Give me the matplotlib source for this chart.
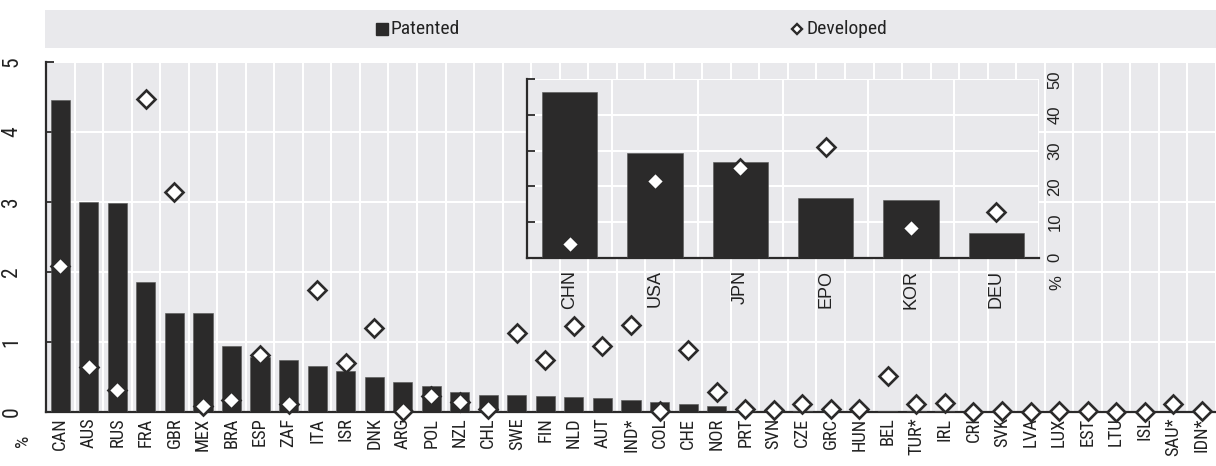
import matplotlib
matplotlib.use("Agg")
import matplotlib.pyplot as plt
import numpy as np

# Main panel: share of patented vs developed (%)
countries = ["CAN", "AUS", "RUS", "FRA", "GBR", "MEX", "BRA", "ESP", "ZAF", "ITA",
             "ISR", "DNK", "ARG", "POL", "NZL", "CHL", "SWE", "FIN", "NLD", "AUT",
             "IND*", "COL", "CHE", "NOR", "PRT", "SVN", "CZE", "GRC", "HUN", "BEL",
             "TUR*", "IRL", "CRI", "SVK", "LVA", "LUX", "EST", "LTU", "ISL", "SAU*", "IDN*"]
patented = [4.46, 3.00, 2.99, 1.86, 1.42, 1.42, 0.95, 0.79, 0.75, 0.66,
            0.58, 0.50, 0.43, 0.37, 0.28, 0.25, 0.24, 0.23, 0.22, 0.20,
            0.17, 0.15, 0.12, 0.08, 0.01, 0.00, 0.01, 0.00, 0.00, 0.02,
            0.01, 0.01, 0.00, 0.00, 0.00, 0.00, 0.00, 0.00, 0.00, 0.00, 0.00]
developed = [2.09, 0.65, 0.31, 4.47, 3.15, 0.08, 0.17, 0.81, 0.12, 1.75,
             0.70, 1.20, 0.01, 0.23, 0.15, 0.04, 1.13, 0.74, 1.23, 0.94,
             1.24, 0.01, 0.89, 0.28, 0.05, 0.03, 0.12, 0.05, 0.05, 0.52,
             0.11, 0.13, 0.00, 0.02, 0.00, 0.02, 0.01, 0.00, 0.00, 0.11, 0.01]
main_yticks = [0, 1, 2, 3, 4, 5]

# Inset panel: largest economies (%)
inset_labels = ["CHN", "USA", "JPN", "EPO", "KOR", "DEU"]
inset_patented = [46.4, 29.4, 26.9, 16.8, 16.2, 7.0]
inset_developed = [3.9, 21.5, 25.0, 31.1, 8.2, 12.9]
inset_yticks = [0, 10, 20, 30, 40, 50]

legend_labels = ["Patented", "Developed"]

BAR = "#2b2a2a"
BG = "#e9e9ec"
NARROW = dict(family=["Liberation Sans Narrow", "Roboto Condensed", "DejaVu Sans Condensed",
                      "Liberation Sans"], stretch="condensed")
REGULAR = dict(family=["Liberation Sans", "DejaVu Sans"])

W, H = 1216, 466
fig = plt.figure(figsize=(W / 100, H / 100), dpi=100)


def box(l, t, r, b):
    return [l / W, 1 - b / H, (r - l) / W, (b - t) / H]


def diamonds(ax, x, y, ms=9.5):
    ax.plot(x, y, linestyle="none", marker="D", ms=ms, mfc="white",
            mec=BAR, mew=1.9, zorder=4, clip_on=False)


# ---------- main axes ----------
ax = fig.add_axes(box(46, 62, 1216, 412))
ax.set_facecolor(BG)
ax.set_axisbelow(True)
x = np.arange(len(countries))
ax.bar(x, patented, width=0.67, color=BAR, edgecolor="#555555", linewidth=0.4, zorder=3)
diamonds(ax, x, developed)
ax.set_xlim(-0.5, len(countries) - 0.5)
ax.set_ylim(0, 5)
ax.set_xticks(x)
ax.set_xticklabels(countries, rotation=90, fontsize=13.3, color="#222222", **NARROW)
ax.set_xticks(np.arange(-0.5, len(countries), 1), minor=True)
ax.set_yticks(main_yticks)
ax.set_yticklabels([str(v) for v in main_yticks], rotation=90, va="center",
                   fontsize=15.5, color="#222222", **NARROW)
ax.tick_params(axis="x", which="both", length=0, pad=4)
ax.tick_params(axis="y", direction="in", length=6, width=1.3, color=BAR, pad=17)
ax.grid(which="minor", axis="x", color="white", lw=1.5)
ax.grid(which="major", axis="y", color="white", lw=1.5)
ax.grid(which="major", axis="x", visible=False)
for s in ["top", "right"]:
    ax.spines[s].set_visible(False)
for s in ["left", "bottom"]:
    ax.spines[s].set_color(BAR)
    ax.spines[s].set_linewidth(1.6)
fig.text(23 / W, 1 - 441 / H, "%", rotation=90, ha="center", va="center",
         fontsize=14, color="#222222", **NARROW)

# ---------- inset axes ----------
ax2 = fig.add_axes(box(527, 79.3, 1039, 257.7))
ax2.set_facecolor(BG)
ax2.set_axisbelow(True)
xi = np.arange(len(inset_labels))
ax2.bar(xi, inset_patented, width=0.645, color=BAR, edgecolor="#555555", linewidth=0.4, zorder=3)
diamonds(ax2, xi, inset_developed)
ax2.set_xlim(-0.5, len(inset_labels) - 0.5)
ax2.set_ylim(0, 50)
ax2.set_xticks(xi)
ax2.set_xticklabels(inset_labels, rotation=90, fontsize=13, color="#222222", **REGULAR)
ax2.set_xticks(np.arange(-0.5, len(inset_labels), 1), minor=True)
ax2.set_yticks(inset_yticks)
ax2.set_yticklabels([str(v) for v in inset_yticks], rotation=90, va="center",
                    fontsize=12, color="#222222", **REGULAR)
ax2.tick_params(axis="x", which="both", length=0, pad=9)
ax2.tick_params(axis="y", direction="in", length=6, width=1.3, color=BAR,
                left=True, right=False, labelleft=False, labelright=True, pad=6)
ax2.grid(which="minor", axis="x", color="white", lw=1.5)
ax2.grid(which="major", axis="y", color="white", lw=1.5)
ax2.grid(which="major", axis="x", visible=False)
for s in ["top", "right"]:
    ax2.spines[s].set_visible(False)
for s in ["left", "bottom"]:
    ax2.spines[s].set_color(BAR)
    ax2.spines[s].set_linewidth(1.6)
fig.text(1057 / W, 1 - 283 / H, "%", rotation=90, ha="center", va="center",
         fontsize=12, color="#222222", **REGULAR)

# ---------- legend band ----------
axl = fig.add_axes(box(45, 10, 1216, 47.7))
axl.set_facecolor(BG)
axl.set_xlim(45, 1216)
axl.set_ylim(0, 1)
axl.set_xticks([])
axl.set_yticks([])
for s in axl.spines.values():
    s.set_visible(False)
axl.plot([382], [0.5], marker="s", ms=8, color=BAR, linestyle="none")
axl.text(391, 0.5, legend_labels[0], va="center", ha="left",
         fontsize=14, color="#222222", **NARROW)
axl.plot([797], [0.5], marker="D", ms=5.5, mfc="white", mec=BAR, mew=1.7, linestyle="none")
axl.text(807, 0.5, legend_labels[1], va="center", ha="left",
         fontsize=14, color="#222222", **NARROW)

fig.savefig("out.png", dpi=100)
